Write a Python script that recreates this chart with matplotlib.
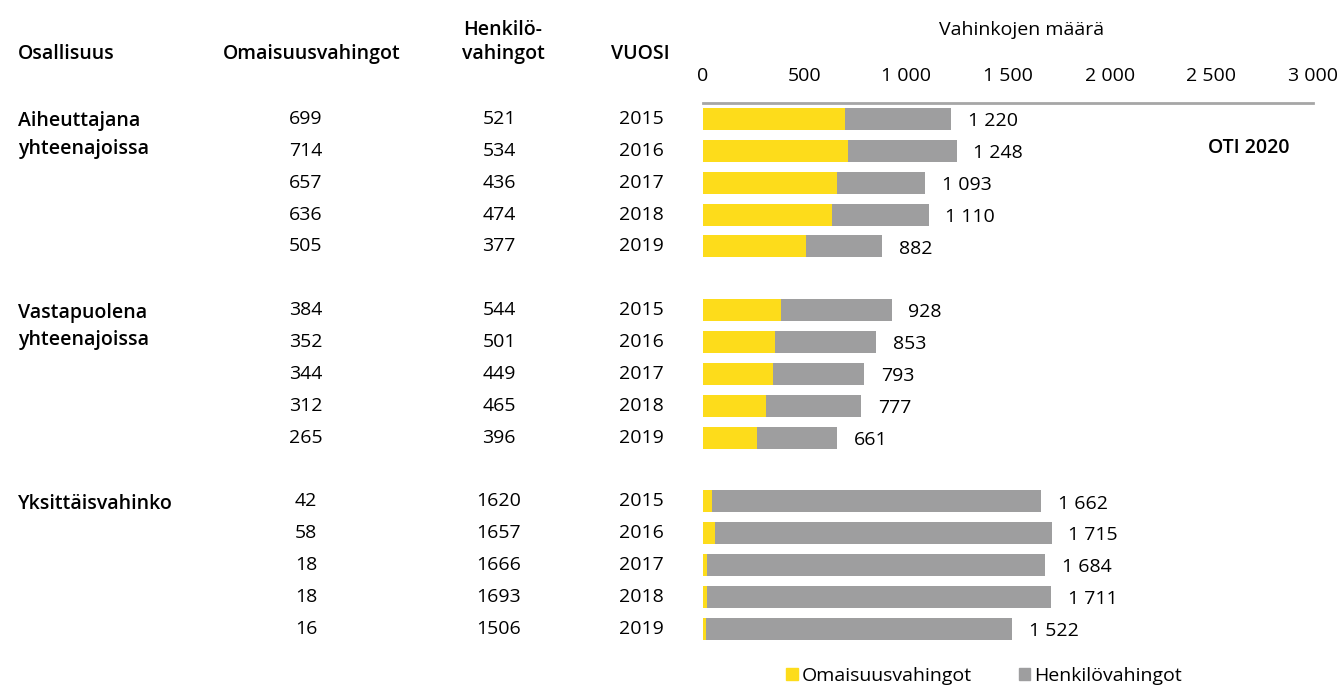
import matplotlib
matplotlib.use("Agg")
import matplotlib.pyplot as plt
import matplotlib.transforms as mtransforms
from matplotlib.patches import Patch
import numpy as np

plt.rcParams['font.family'] = ['Open Sans', 'DejaVu Sans']

# data
groups = [['Aiheuttajana', 'yhteenajoissa'], ['Vastapuolena', 'yhteenajoissa'], ['Yksittäisvahinko']]
years = [2015, 2016, 2017, 2018, 2019]
omaisuus = [[699, 714, 657, 636, 505],
            [384, 352, 344, 312, 265],
            [42, 58, 18, 18, 16]]
henkilo = [[521, 534, 436, 474, 377],
           [544, 501, 449, 465, 396],
           [1620, 1657, 1666, 1693, 1506]]
xticks = [0, 500, 1000, 1500, 2000, 2500, 3000]

YELLOW = '#FDDC1B'
GREY = '#9E9E9F'
FS = 14
BOLD = 'semibold'

W, H = 1343, 689
fig = plt.figure(figsize=(W / 100, H / 100), dpi=100)

def px(x):
    return x / W

def py(y):
    return 1 - y / H

slot = (629 - 119) / 16.0
ax = fig.add_axes([px(703), py(103 + 17 * slot), px(1313) - px(703), 17 * slot / H])

def fmt(v):
    return f"{v:,}".replace(',', ' ')

blend = mtransforms.blended_transform_factory(fig.transFigure, ax.transData)

for g in range(3):
    for i, yr in enumerate(years):
        y = g * 6 + i
        o = omaisuus[g][i]
        h = henkilo[g][i]
        ax.barh(y, o, height=0.69, color=YELLOW, linewidth=0)
        ax.barh(y, h, left=o, height=0.69, color=GREY, linewidth=0)
        ax.annotate(fmt(o + h), (o + h, y), xytext=(12, -1.5), textcoords='offset points',
                    va='center', ha='left', fontsize=FS)
        ax.text(px(306), y, str(o), transform=blend, ha='center', va='center', fontsize=FS)
        ax.text(px(499), y, str(h), transform=blend, ha='center', va='center', fontsize=FS)
        ax.text(px(641), y, str(yr), transform=blend, ha='center', va='center', fontsize=FS)
    for j, line in enumerate(groups[g]):
        ax.text(px(18), g * 6 + j * 0.85, line, transform=blend, ha='left', va='center_baseline',
                fontsize=FS, fontweight=BOLD)

ax.set_xlim(0, 3000)
ax.set_ylim(16.5, -0.5)
ax.xaxis.tick_top()
ax.set_xticks(xticks)
ax.set_xticklabels([fmt(t) for t in xticks], fontsize=FS)
ax.tick_params(axis='x', length=0, pad=13)
ax.set_yticks([])
for s in ['left', 'right', 'bottom']:
    ax.spines[s].set_visible(False)
ax.spines['top'].set_color('#A6A6A6')
ax.spines['top'].set_linewidth(2)

# headers
fig.text(px(18), py(59), 'Osallisuus', ha='left', va='baseline', fontsize=FS, fontweight=BOLD)
fig.text(px(312), py(59), 'Omaisuusvahingot', ha='center', va='baseline', fontsize=FS, fontweight=BOLD)
fig.text(px(503), py(35), 'Henkilö-', ha='center', va='baseline', fontsize=FS, fontweight=BOLD)
fig.text(px(503), py(59), 'vahingot', ha='center', va='baseline', fontsize=FS, fontweight=BOLD)
fig.text(px(640), py(59), 'VUOSI', ha='center', va='baseline', fontsize=FS, fontweight=BOLD)
fig.text(px(1022), py(30), 'Vahinkojen määrä', ha='center', va='center', fontsize=FS)
fig.text(px(1249), py(148), 'OTI 2020', ha='center', va='center', fontsize=FS, fontweight=BOLD)

handles = [Patch(color=YELLOW, label='Omaisuusvahingot'), Patch(color=GREY, label='Henkilövahingot')]
fig.legend(handles=handles, loc='center', bbox_to_anchor=(px(984), py(676)), ncol=2,
           frameon=False, fontsize=FS, handlelength=0.6, handleheight=0.6,
           handletextpad=0.2, columnspacing=2.4)

fig.savefig('out.png', dpi=100)
